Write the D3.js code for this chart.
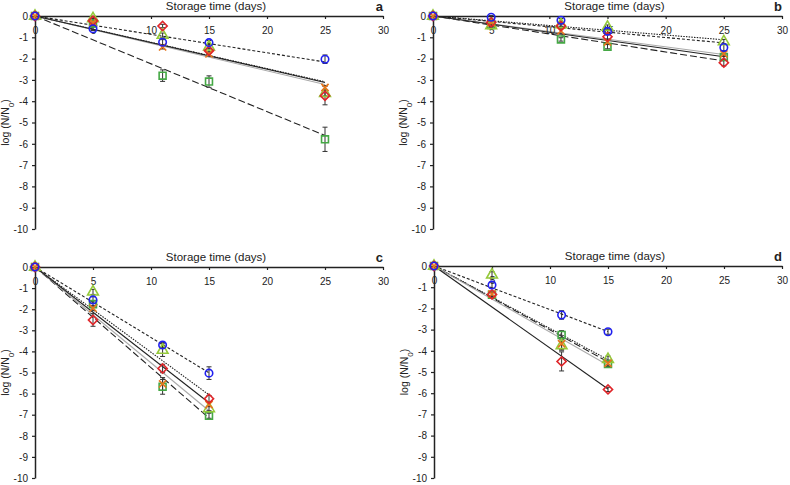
<!DOCTYPE html>
<html><head><meta charset="utf-8">
<script src="https://cdn.jsdelivr.net/npm/d3@7"></script>
<style>body{margin:0;background:#fff}svg{font-family:"Liberation Sans",Arial,sans-serif}</style>
</head><body><svg id="c" width="790" height="485"></svg>
<script>
const panelLabels = ["a", "b", "c", "d"];
const daysLong = [0, 5, 11, 15, 25];
const daysShort = [0, 5, 11, 15];
const seriesNames = ["square", "triangle", "cross", "diamond", "circle"];
const xTicks = [0, 5, 10, 15, 20, 25, 30];
const yTicks = [0, -1, -2, -3, -4, -5, -6, -7, -8, -9, -10];
const xTitle = "Storage time (days)";

// panel a
const aCircle   = [0, -0.60, -1.23, -1.25, -2.03];
const aDiamond  = [0, -0.22, -0.47, -1.63, -3.74];
const aSquare   = [0, -0.35, -2.80, -3.08, -5.79];
const aTriangle = [0, -0.12, -0.90, -1.45, -3.63];
const aCross    = [0, -0.30, -1.45, -1.78, -3.36];
const aCircleErr   = [0, 0.08, 0.12, 0.10, 0.20];
const aDiamondErr  = [0, 0.10, 0.08, 0.12, 0.43];
const aSquareErr   = [0, 0.10, 0.27, 0.27, 0.57];
const aTriangleErr = [0, 0.10, 0.10, 0.10, 0.12];
const aCrossErr    = [0, 0.10, 0.10, 0.10, 0.10];
// panel b
const bCircle   = [0, -0.06, -0.20, -0.72, -1.48];
const bDiamond  = [0, -0.30, -0.47, -0.98, -2.19];
const bSquare   = [0, -0.42, -1.10, -1.44, -1.93];
const bTriangle = [0, -0.45, -0.40, -0.52, -1.20];
const bCross    = [0, -0.32, -0.70, -1.22, -1.78];
const bCircleErr   = [0, 0.08, 0.08, 0.10, 0.15];
const bDiamondErr  = [0, 0.08, 0.10, 0.10, 0.15];
const bSquareErr   = [0, 0.08, 0.08, 0.10, 0.10];
const bTriangleErr = [0, 0.08, 0.08, 0.10, 0.10];
const bCrossErr    = [0, 0.08, 0.15, 0.12, 0.12];
// panel c
const cCircle   = [0, -1.56, -3.70, -5.03];
const cDiamond  = [0, -2.51, -4.81, -6.24];
const cSquare   = [0, -1.76, -5.68, -7.05];
const cTriangle = [0, -1.18, -3.94, -6.71];
const cCross    = [0, -1.95, -5.54, -6.52];
const cCircleErr   = [0, 0.15, 0.12, 0.30];
const cDiamondErr  = [0, 0.30, 0.20, 0.15];
const cSquareErr   = [0, 0.15, 0.35, 0.12];
const cTriangleErr = [0, 0.12, 0.30, 0.10];
const cCrossErr    = [0, 0.12, 0.30, 0.10];
// panel d
const dCircle   = [0, -0.90, -2.31, -3.10];
const dDiamond  = [0, -1.34, -4.50, -5.82];
const dSquare   = [0, -1.36, -3.25, -4.62];
const dTriangle = [0, -0.42, -3.75, -4.40];
const dCross    = [0, -1.32, -3.67, -4.59];
const dCircleErr   = [0, 0.15, 0.20, 0.12];
const dDiamondErr  = [0, 0.10, 0.45, 0.10];
const dSquareErr   = [0, 0.10, 0.20, 0.10];
const dTriangleErr = [0, 0.15, 0.20, 0.15];
const dCrossErr    = [0, 0.10, 0.30, 0.15];

const panelData = [
  {days: daysLong, vals: {circle: aCircle, diamond: aDiamond, square: aSquare, triangle: aTriangle, cross: aCross},
   errs: {circle: aCircleErr, diamond: aDiamondErr, square: aSquareErr, triangle: aTriangleErr, cross: aCrossErr}},
  {days: daysLong, vals: {circle: bCircle, diamond: bDiamond, square: bSquare, triangle: bTriangle, cross: bCross},
   errs: {circle: bCircleErr, diamond: bDiamondErr, square: bSquareErr, triangle: bTriangleErr, cross: bCrossErr}},
  {days: daysShort, vals: {circle: cCircle, diamond: cDiamond, square: cSquare, triangle: cTriangle, cross: cCross},
   errs: {circle: cCircleErr, diamond: cDiamondErr, square: cSquareErr, triangle: cTriangleErr, cross: cCrossErr}},
  {days: daysShort, vals: {circle: dCircle, diamond: dDiamond, square: dSquare, triangle: dTriangle, cross: dCross},
   errs: {circle: dCircleErr, diamond: dDiamondErr, square: dSquareErr, triangle: dTriangleErr, cross: dCrossErr}}
];

const geo = [
  {x0: 35, x1: 383, y0: 16, y1: 229},
  {x0: 433, x1: 782, y0: 16, y1: 229},
  {x0: 35, x1: 383, y0: 267, y1: 478},
  {x0: 434, x1: 782, y0: 266, y1: 478}
];

const colors = {circle: "#2020f0", diamond: "#e0262a", square: "#45a845", triangle: "#95c93a", cross: "#e6761e"};
const lineStyle = {
  circle:   {stroke: "#222", dash: "3,2", w: 1.1},
  diamond:  {stroke: "#222", dash: null, w: 1.1},
  square:   {stroke: "#222", dash: "7,3", w: 1.1},
  triangle: {stroke: "#222", dash: "1.5,1.2", w: 1.1},
  cross:    {stroke: "#aaa", dash: null, w: 1.1}
};

const svg = d3.select("#c");

panelData.forEach((pd, i) => {
  const g = geo[i];
  const x = d3.scaleLinear().domain([0, 30]).range([g.x0, g.x1]);
  const y = d3.scaleLinear().domain([0, -10]).range([g.y0, g.y1]);
  const G = svg.append("g");

  // regression lines through origin
  const rl = G.append("g");
  seriesNames.forEach(s => {
    const v = pd.vals[s];
    let sxy = 0, sxx = 0;
    pd.days.forEach((d, k) => { sxy += d * v[k]; sxx += d * d; });
    const slope = sxy / sxx;
    const last = d3.max(pd.days);
    const st = lineStyle[s];
    rl.append("line")
      .attr("x1", x(0)).attr("y1", y(0))
      .attr("x2", x(last)).attr("y2", y(slope * last))
      .attr("stroke", st.stroke).attr("stroke-width", st.w)
      .attr("stroke-dasharray", st.dash);
  });

  // axes
  const ya = d3.axisLeft(y).tickValues(yTicks).tickSize(3).tickSizeOuter(0).tickPadding(4).tickFormat(d => String(d));
  const yg = G.append("g").attr("transform", `translate(${g.x0},0)`).call(ya);
  const xa = d3.axisBottom(x).tickValues(xTicks).tickSize(3).tickSizeOuter(0).tickPadding(8).tickFormat(d => String(d));
  const xg = G.append("g").attr("transform", `translate(0,${g.y0})`).call(xa);
  [yg, xg].forEach(a => {
    a.select(".domain").attr("stroke", "#222").attr("stroke-width", 1.5);
    a.selectAll(".tick line").attr("stroke", "#222").attr("stroke-width", 1.2);
    a.selectAll(".tick text").attr("fill", "#222").style("font-size", "10px").style("font-family", '"Liberation Sans",Arial,sans-serif');
  });

  // error bars
  const eg = G.append("g");
  seriesNames.forEach(s => {
    pd.days.forEach((d, k) => {
      const e = pd.errs[s][k];
      if (!e) return;
      const v = pd.vals[s][k];
      const cx = x(d);
      eg.append("line").attr("x1", cx).attr("x2", cx).attr("y1", y(v - e)).attr("y2", y(v + e))
        .attr("stroke", "#333").attr("stroke-width", 1);
      [v - e, v + e].forEach(t => eg.append("line").attr("x1", cx - 2.5).attr("x2", cx + 2.5)
        .attr("y1", y(t)).attr("y2", y(t)).attr("stroke", "#333").attr("stroke-width", 1));
    });
  });

  // markers
  const mg = G.append("g");
  seriesNames.forEach(s => {
    pd.days.forEach((d, k) => {
      const cx = x(d), cy = y(pd.vals[s][k]);
      const c = colors[s];
      if (s === "cross") {
        const r = 3.6;
        mg.append("path").attr("d", `M${cx - r},${cy - r}L${cx + r},${cy + r}M${cx - r},${cy + r}L${cx + r},${cy - r}`)
          .attr("stroke", c).attr("stroke-width", 1.7).attr("fill", "none");
      } else {
        const type = {circle: d3.symbolCircle, diamond: d3.symbolSquare, square: d3.symbolSquare, triangle: d3.symbolTriangle}[s];
        const size = {circle: 44, diamond: 42, square: 48, triangle: 50}[s];
        const rot = s === "diamond" ? " rotate(45)" : "";
        mg.append("path").attr("d", d3.symbol().type(type).size(size)())
          .attr("transform", `translate(${cx},${cy})${rot}`)
          .attr("fill", "none").attr("stroke", c).attr("stroke-width", 1.6);
      }
    });
  });

  // titles
  G.append("text").attr("x", (g.x0 + g.x1) / 2 + 7).attr("y", Math.round(g.y0 - 6))
    .attr("text-anchor", "middle").style("font-size", "11.5px").attr("fill", "#222").text(xTitle);
  G.append("text").attr("x", g.x1).attr("y", g.y0 - 5)
    .attr("text-anchor", "end").style("font-size", "13px").style("font-weight", "bold").attr("fill", "#222").text(panelLabels[i]);
  const yl = G.append("text")
    .attr("transform", `translate(${g.x0 - 26},${(g.y0 + g.y1) / 2}) rotate(-90)`)
    .attr("text-anchor", "middle").style("font-size", "10.5px").attr("fill", "#222");
  yl.append("tspan").text("log (N/N");
  yl.append("tspan").attr("baseline-shift", "sub").style("font-size", "8px").text("0");
  yl.append("tspan").text(")");
});
</script></body></html>
